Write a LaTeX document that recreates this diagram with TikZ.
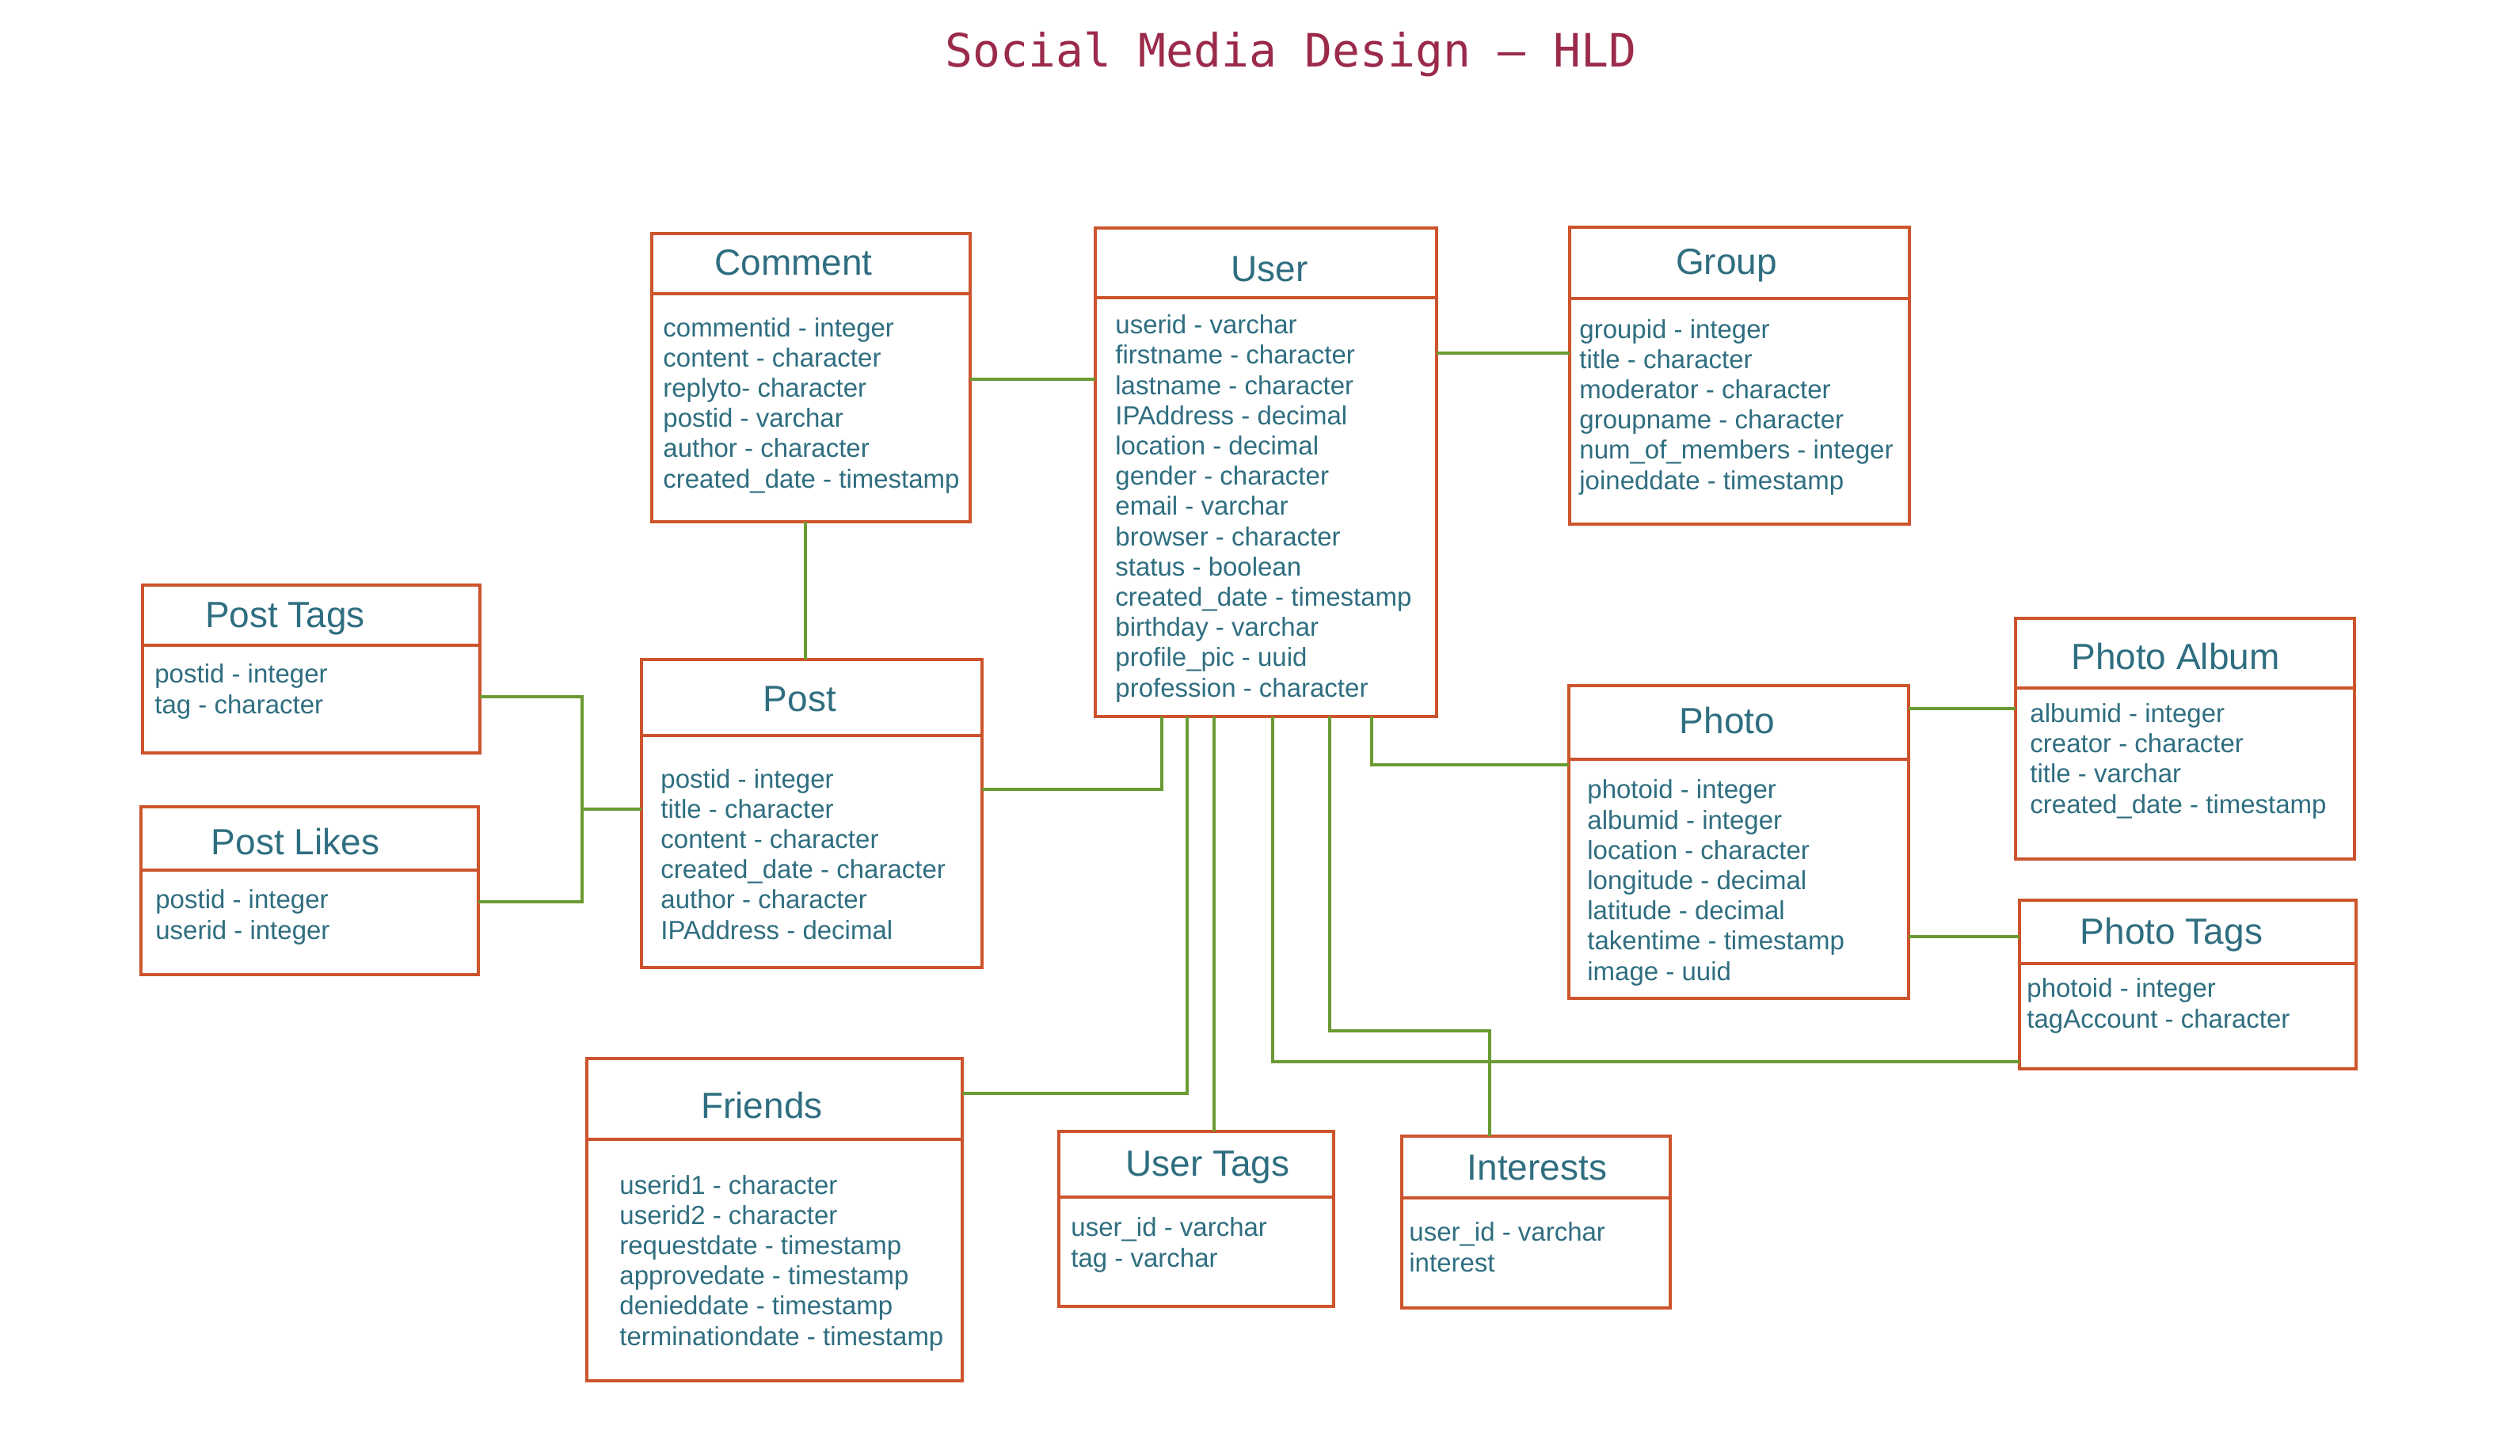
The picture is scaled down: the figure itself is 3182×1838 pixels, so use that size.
\documentclass[tikz,border=0pt]{standalone}
\usepackage{fontspec}
\setmainfont{Liberation Sans}
\newfontfamily\titlemono{DejaVu Sans Mono}
\definecolor{bcol}{RGB}{205,84,44}
\definecolor{tcol}{RGB}{47,110,128}
\definecolor{gcol}{RGB}{107,154,50}
\definecolor{hcol}{RGB}{155,42,75}
\newcommand\tablebox[6]{%
  \node[tbox, minimum width={(#4-#2)*0.5pt}, minimum height={(#5-#3)*0.5pt}] (#1) at ({(#2+#4)/2},{(#3+#5)/2}) {};
  \draw[tborder] (#1.west |- 0,#6) -- (#1.east |- 0,#6);
}
\begin{document}
\begin{tikzpicture}[x=0.5pt,y=-0.5pt,
  tbox/.style={draw=bcol, line width=2pt, inner sep=0pt, outer sep=0pt},
  tborder/.style={draw=bcol, line width=2pt},
  ttitle/.style={anchor=base, text=tcol, inner sep=0pt, font=\fontsize{23}{27}\selectfont},
  tattr/.style={anchor=base west, align=left, text=tcol, inner sep=0pt, font=\fontsize{16.5}{19.1}\selectfont},
  conn/.style={draw=gcol, line width=1.6pt}]
\useasboundingbox[fill=white] (0,0) rectangle (3182,1838);

\node[anchor=base, text=hcol, inner sep=0pt, font=\titlemono\fontsize{29}{34}\selectfont] (maintitle) at (1630,84) {Social Media Design – HLD};

% Comment (attribute node anchored at the baseline of its last line)
\tablebox{comment}{823}{295}{1225}{659}{371}
\node[ttitle] (commentT) at (1002,347) {Comment};
\node[tattr] (commentA) at (837,616) {commentid - integer\\content - character\\replyto- character\\postid - varchar\\author - character\\created\_date - timestamp};

% User
\tablebox{user}{1383}{288}{1814}{905}{376}
\node[ttitle] (userT) at (1603,355) {User};
\node[tattr] (userA) at (1408,880) {userid - varchar\\firstname - character\\lastname - character\\IPAddress - decimal\\location - decimal\\gender - character\\email - varchar\\browser - character\\status - boolean\\created\_date - timestamp\\birthday - varchar\\profile\_pic - uuid\\profession - character};

% Group
\tablebox{group}{1982}{287}{2411}{662}{377}
\node[ttitle] (groupT) at (2180,346) {Group};
\node[tattr] (groupA) at (1994,618) {groupid - integer\\title - character\\moderator - character\\groupname - character\\num\_of\_members - integer\\joineddate - timestamp};

% Post Tags
\tablebox{posttags}{180}{739}{606}{951}{815}
\node[ttitle] (posttagsT) at (360,792) {Post Tags};
\node[tattr] (posttagsA) at (195,901) {postid - integer\\tag - character};

% Post Likes
\tablebox{postlikes}{178}{1019}{604}{1231}{1099}
\node[ttitle] (postlikesT) at (373,1079) {Post Likes};
\node[tattr] (postlikesA) at (196,1186) {postid - integer\\userid - integer};

% Post
\tablebox{post}{810}{833}{1240}{1222}{929}
\node[ttitle] (postT) at (1010,898) {Post};
\node[tattr] (postA) at (834,1186) {postid - integer\\title - character\\content - character\\created\_date - character\\author - character\\IPAddress - decimal};

% Photo
\tablebox{photo}{1981}{866}{2410}{1261}{959}
\node[ttitle] (photoT) at (2181,926) {Photo};
\node[tattr] (photoA) at (2004,1238) {photoid - integer\\albumid - integer\\location - character\\longitude - decimal\\latitude - decimal\\takentime - timestamp\\image - uuid};

% Photo Album
\tablebox{album}{2545}{781}{2973}{1085}{869}
\node[ttitle] (albumT) at (2747,845) {Photo Album};
\node[tattr] (albumA) at (2563,1027) {albumid - integer\\creator - character\\title - varchar\\created\_date - timestamp};

% Photo Tags
\tablebox{phototags}{2550}{1137}{2975}{1350}{1217}
\node[ttitle] (phototagsT) at (2742,1192) {Photo Tags};
\node[tattr] (phototagsA) at (2559,1298) {photoid - integer\\tagAccount - character};

% Friends
\tablebox{friends}{741}{1337}{1215}{1744}{1439}
\node[ttitle] (friendsT) at (962,1412) {Friends};
\node[tattr] (friendsA) at (782,1699) {userid1 - character\\userid2 - character\\requestdate - timestamp\\approvedate - timestamp\\denieddate - timestamp\\terminationdate - timestamp};

% User Tags
\tablebox{usertags}{1337}{1429}{1684}{1650}{1512}
\node[ttitle] (usertagsT) at (1525,1485) {User Tags};
\node[tattr] (usertagsA) at (1352,1600) {user\_id - varchar\\tag - varchar};

% Interests
\tablebox{interests}{1770}{1435}{2109}{1652}{1513}
\node[ttitle] (interestsT) at (1941,1490) {Interests};
\node[tattr] (interestsA) at (1779,1606) {user\_id - varchar\\interest};

% connectors
\coordinate (pj) at (735,1022);
\coordinate (ic) at (1881,1302);
\draw[conn] (comment.east |- 0,479) -- (user.west |- 0,479);
\draw[conn] (user.east |- 0,446) -- (group.west |- 0,446);
\draw[conn] (comment.south -| 1017,0) -- (post.north -| 1017,0);
\draw[conn] (posttags.east |- 0,880) -| (pj);
\draw[conn] (postlikes.east |- 0,1139) -| (pj);
\draw[conn] (pj) -- (post.west |- pj);
\draw[conn] (post.east |- 0,997) -| (user.south -| 1467,0);
\draw[conn] (friends.east |- 0,1381) -| (user.south -| 1499,0);
\draw[conn] (usertags.north -| 1533,0) -- (user.south -| 1533,0);
\draw[conn] (phototags.west |- 0,1341) -| (user.south -| 1607,0);
\draw[conn] (user.south -| 1679,0) |- (ic) -- (interests.north -| ic);
\draw[conn] (user.south -| 1732,0) |- (photo.west |- 0,966);
\draw[conn] (photo.east |- 0,895) -- (album.west |- 0,895);
\draw[conn] (photo.east |- 0,1183) -- (phototags.west |- 0,1183);
\end{tikzpicture}
\end{document}
